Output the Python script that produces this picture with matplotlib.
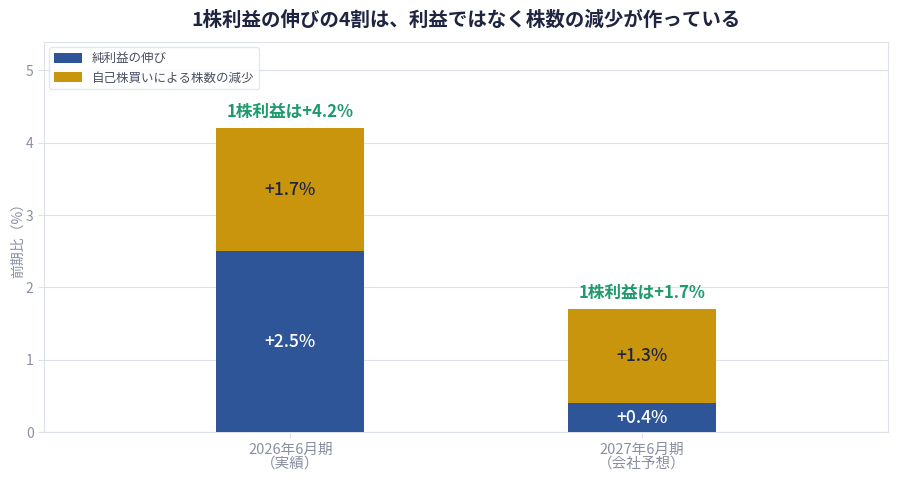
import matplotlib
matplotlib.use('Agg')
import matplotlib.pyplot as plt
import numpy as np

plt.rcParams['font.family'] = ['Noto Sans CJK JP', 'DejaVu Sans']

categories = ['2026年6月期\n（実績）', '2027年6月期\n（会社予想）']
net_income = [2.5, 0.4]
buyback = [1.7, 1.3]
eps_total = [4.2, 1.7]
series_names = ['純利益の伸び', '自己株買いによる株数の減少']

c_blue = '#2E5597'
c_gold = '#C9950C'
c_green = '#1E9A6C'
c_grid = '#DDE1EA'
c_tick = '#8A8FA3'

fig, ax = plt.subplots(figsize=(9, 4.8), dpi=100)
fig.subplots_adjust(left=0.049, right=0.987, top=0.912, bottom=0.1)

x = np.arange(len(categories))
w = 0.42
ax.bar(x, net_income, w, color=c_blue, label=series_names[0], zorder=3)
ax.bar(x, buyback, w, bottom=net_income, color=c_gold, label=series_names[1], zorder=3)

for i in range(len(x)):
    ax.text(x[i], net_income[i] / 2, f'+{net_income[i]:.1f}%', ha='center', va='center',
            color='white', fontsize=12.5, fontweight='medium', zorder=4)
    ax.text(x[i], net_income[i] + buyback[i] / 2, f'+{buyback[i]:.1f}%', ha='center',
            va='center', color='#1F2440', fontsize=12.5, fontweight='medium', zorder=4)
    ax.text(x[i], eps_total[i] + 0.1, f'1株利益は+{eps_total[i]:.1f}%', ha='center',
            va='bottom', color=c_green, fontsize=12, fontweight='bold', zorder=4)

ax.set_xlim(-0.7, 1.7)
ax.set_ylim(0, 5.39)
ax.set_yticks([0, 1, 2, 3, 4, 5])
ax.set_xticks(x)
ax.set_xticklabels(categories, fontsize=10.5, color=c_tick, linespacing=1.05)
ax.tick_params(axis='y', labelsize=10, labelcolor=c_tick, color=c_grid, length=4)
ax.tick_params(axis='x', color=c_grid, length=4)
ax.set_ylabel('前期比（%）', color=c_tick, fontsize=10, labelpad=1)
ax.grid(axis='y', color=c_grid, linewidth=0.8, zorder=0)
for s in ax.spines.values():
    s.set_color(c_grid)

ax.set_title('1株利益の伸びの4割は、利益ではなく株数の減少が作っている',
             fontsize=14, fontweight='bold', color='#1F2440', pad=12)

leg = ax.legend(loc='upper left', fontsize=9, frameon=True, edgecolor=c_grid,
                handlelength=2.2, handleheight=0.8, borderaxespad=0.4)
for t in leg.get_texts():
    t.set_color('#4A4F63')

fig.savefig('out.png', dpi=100)
